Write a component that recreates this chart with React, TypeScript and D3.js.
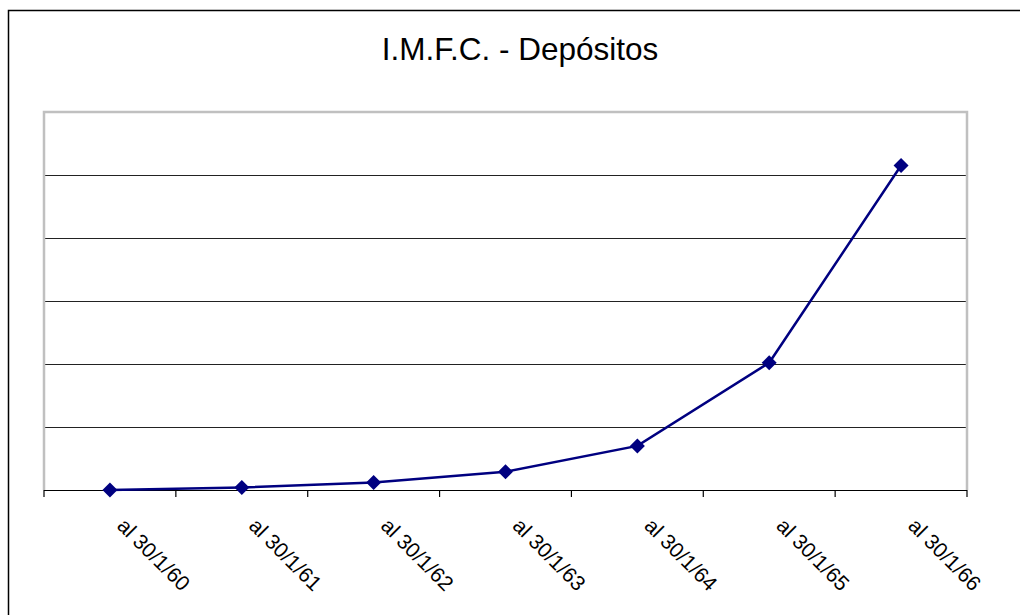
import React from "react";
import * as d3 from "d3";

const title = "I.M.F.C. - Depósitos";
const categories = ["al 30/1/60", "al 30/1/61", "al 30/1/62", "al 30/1/63", "al 30/1/64", "al 30/1/65", "al 30/1/66"];
const values = [0, 4, 12, 29, 70, 202, 515];
const yTicks = [0, 100, 200, 300, 400, 500, 600];

export default function App() {
  const W = 1020, H = 615;
  const left = 44, right = 967, top = 112, bottom = 490;
  const x = d3.scaleBand<string>().domain(categories).range([left, right]).padding(0);
  const y = d3.scaleLinear().domain([0, 600]).range([bottom, top]);
  const cx = (c: string) => (x(c) as number) + x.bandwidth() / 2;
  const line = d3.line<number>().x((_, i) => cx(categories[i])).y((v) => y(v));
  const boundaries = categories.map((c) => x(c) as number).concat([right]);
  const dsz = 7.5;
  return (
    <svg width={W} height={H} style={{ position: "absolute", left: 0, top: 0, background: "#fff" }}>
      <rect x={8.5} y={10.5} width={1030} height={640} fill="#fff" stroke="#000" strokeWidth={1.5} />
      <text x={520} y={60} textAnchor="middle" fontFamily="Liberation Sans, Arial, sans-serif" fontSize={31.5} fill="#000">
        {title}
      </text>
      {yTicks.slice(1, -1).map((t) => (
        <line key={t} x1={left} x2={right} y1={Math.round(y(t)) + 0.5} y2={Math.round(y(t)) + 0.5} stroke="#222" strokeWidth={1} />
      ))}
      <path d={`M${left},${bottom} V${top} H${right} V${bottom}`} fill="none" stroke="#c0c0c0" strokeWidth={2.5} />
      <line x1={left} x2={right} y1={bottom + 0.5} y2={bottom + 0.5} stroke="#000" strokeWidth={1.2} />
      {boundaries.map((b, i) => (
        <line key={i} x1={b} x2={b} y1={bottom} y2={bottom + 7} stroke="#000" strokeWidth={1.2} />
      ))}
      <path d={line(values) || ""} fill="none" stroke="#000080" strokeWidth={2.5} />
      {values.map((v, i) => {
        const px = cx(categories[i]);
        const py = y(v);
        return (
          <path key={i} d={`M${px},${py - dsz} L${px + dsz},${py} L${px},${py + dsz} L${px - dsz},${py} Z`} fill="#000080" />
        );
      })}
      {categories.map((c) => (
        <text
          key={c}
          transform={`translate(${cx(c) + 6},${527}) rotate(45)`}
          fontFamily="Liberation Sans, Arial, sans-serif"
          fontSize={21}
          fill="#000"
        >
          {c}
        </text>
      ))}
    </svg>
  );
}
